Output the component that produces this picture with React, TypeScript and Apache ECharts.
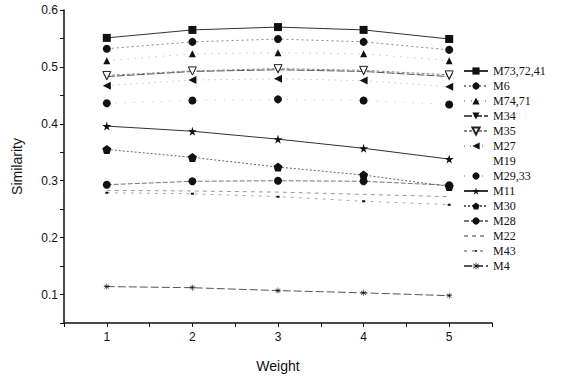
import React, { useEffect, useRef } from "react";
import * as echarts from "echarts";

const weights = [1, 2, 3, 4, 5];
const seriesNames = ["M73,72,41", "M6", "M74,71", "M34", "M35", "M27", "M19", "M29,33", "M11", "M30", "M28", "M22", "M43", "M4"];
const m73 = [0.551, 0.565, 0.570, 0.565, 0.549];
const m6 = [0.532, 0.544, 0.549, 0.544, 0.530];
const m74 = [0.511, 0.523, 0.525, 0.523, 0.511];
const m34 = [0.483, 0.492, 0.495, 0.492, 0.483];
const m35 = [0.485, 0.493, 0.497, 0.494, 0.486];
const m27 = [0.467, 0.477, 0.479, 0.476, 0.465];
const m19 = [0.437, 0.442, 0.444, 0.442, 0.435];
const m29 = [0.436, 0.441, 0.443, 0.441, 0.434];
const m11 = [0.396, 0.387, 0.373, 0.357, 0.338];
const m30 = [0.355, 0.341, 0.324, 0.310, 0.290];
const m28 = [0.293, 0.299, 0.300, 0.299, 0.292];
const m22 = [0.283, 0.282, 0.280, 0.276, 0.272];
const m43 = [0.279, 0.277, 0.272, 0.264, 0.258];
const m4 = [0.114, 0.112, 0.107, 0.103, 0.098];
const yTicks = [0.1, 0.2, 0.3, 0.4, 0.5, 0.6];
const xTicks = [1, 2, 3, 4, 5];

const STAR = "path://M50,0 L61,35 L98,35 L68,57 L79,91 L50,70 L21,91 L32,57 L2,35 L39,35 Z";
const PENT = "path://M50,0 L100,38 L81,100 L19,100 L0,38 Z";
const AST = "path://M45,0 H55 V40 L85,15 L92,22 L62,45 H100 V55 H62 L92,78 L85,85 L55,60 V100 H45 V60 L15,85 L8,78 L38,55 H0 V45 H38 L8,22 L15,15 L45,40 Z";
const BLANK = "path://M0,0 L0.1,0 L0.1,0.1 Z M99.9,99.9 L100,99.9 L100,100 Z";
const TINY = "path://M0,0 L0.1,0 L0.1,0.1 Z M99.9,99.9 L100,99.9 L100,100 Z M35,40 L65,40 L65,60 L35,60 Z";

type Spec = {
  data: number[];
  symbol: string;
  size: number;
  show?: boolean;
  rotate?: number;
  hollow?: boolean;
  line: { color: string; type: any; width: number; opacity?: number };
};

const specs: Spec[] = [
  { data: m73, symbol: "rect", size: 8, line: { color: "#333", type: "solid", width: 1 } },
  { data: m6, symbol: "circle", size: 8, line: { color: "#888", type: [2, 3], width: 1 } },
  { data: m74, symbol: "triangle", size: 7, line: { color: "#aaa", type: [1, 6], width: 1 } },
  { data: m34, symbol: "triangle", size: 8, rotate: 180, line: { color: "#555", type: [8, 2], width: 1 } },
  { data: m35, symbol: "triangle", size: 8, rotate: 180, hollow: true, line: { color: "#888", type: [3, 2], width: 1 } },
  { data: m27, symbol: "triangle", size: 8, rotate: 90, line: { color: "#aaa", type: [1, 5], width: 1 } },
  { data: m19, symbol: BLANK, size: 8, show: false, line: { color: "#fff", type: "dotted", width: 1, opacity: 0 } },
  { data: m29, symbol: "circle", size: 8, line: { color: "#bbb", type: [1, 8], width: 1 } },
  { data: m11, symbol: STAR, size: 9, line: { color: "#333", type: "solid", width: 1 } },
  { data: m30, symbol: PENT, size: 9, line: { color: "#666", type: [2, 2], width: 1 } },
  { data: m28, symbol: "circle", size: 8, line: { color: "#777", type: [5, 2], width: 1 } },
  { data: m22, symbol: BLANK, size: 8, show: false, line: { color: "#999", type: [4, 4], width: 1 } },
  { data: m43, symbol: TINY, size: 10, line: { color: "#aaa", type: [3, 5], width: 1 } },
  { data: m4, symbol: AST, size: 6, line: { color: "#555", type: [8, 3], width: 1 } },
];

export default function App() {
  const ref = useRef<HTMLDivElement>(null);
  useEffect(() => {
    if (!ref.current) return;
    const chart = echarts.init(ref.current, undefined, { renderer: "svg" });
    const series = specs.map((s, i) => ({
      name: seriesNames[i],
      type: "line",
      data: weights.map((w, j) => [w, s.data[j]]),
      symbol: s.symbol,
      symbolSize: s.size,
      symbolRotate: s.rotate ?? 0,
      showSymbol: s.show ?? true,
      itemStyle: s.hollow
        ? { color: "#fff", borderColor: "#222", borderWidth: 1 }
        : { color: "#111", borderWidth: 0 },
      lineStyle: { color: s.line.color, type: s.line.type, width: s.line.width, opacity: s.line.opacity ?? 1 },
      emphasis: { disabled: true },
    }));
    chart.setOption({
      animation: false,
      backgroundColor: "#fff",
      grid: { left: 64, top: 10, right: 74, bottom: 53, containLabel: false },
      legend: {
        orient: "vertical",
        left: 458,
        top: 60,
        itemWidth: 24,
        itemHeight: 9,
        itemGap: 3,
        data: seriesNames,
        textStyle: { fontFamily: "Liberation Serif", fontSize: 12, color: "#111", lineHeight: 12 },
        selectedMode: false,
      },
      xAxis: {
        type: "value",
        min: 0.5,
        max: 5.5,
        interval: 0.5,
        name: "Weight",
        nameLocation: "middle",
        nameGap: 36,
        nameTextStyle: { fontFamily: "Liberation Sans", fontSize: 14, color: "#111" },
        axisLine: { show: true, lineStyle: { color: "#111", width: 1.5 } },
        axisTick: { show: true, length: 4, lineStyle: { color: "#111" } },
        axisLabel: {
          fontFamily: "Liberation Sans",
          fontSize: 12,
          color: "#111",
          margin: 8,
          formatter: (v: number) => (xTicks.includes(v) ? String(v) : ""),
        },
        splitLine: { show: false },
      },
      yAxis: {
        type: "value",
        min: 0.05,
        max: 0.6,
        interval: 0.05,
        name: "Similarity",
        nameLocation: "middle",
        nameGap: 40,
        nameTextStyle: { fontFamily: "Liberation Sans", fontSize: 14, color: "#111" },
        axisLine: { show: true, lineStyle: { color: "#111", width: 1.5 } },
        axisTick: { show: true, length: 4, lineStyle: { color: "#111" } },
        axisLabel: {
          fontFamily: "Liberation Sans",
          fontSize: 12,
          color: "#111",
          margin: 6,
          formatter: (v: number) => {
            const r = Math.round(v * 100) / 100;
            return yTicks.some((t) => Math.abs(t - r) < 1e-6) ? r.toFixed(1) : "";
          },
        },
        splitLine: { show: false },
      },
      series,
    });
    return () => chart.dispose();
  }, []);
  return <div ref={ref} style={{ width: 566, height: 378, position: "absolute", left: 0, top: 0 }} />;
}
